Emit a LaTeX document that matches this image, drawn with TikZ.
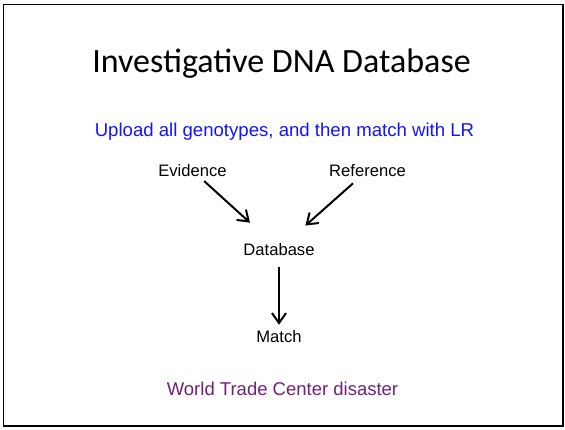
\documentclass[tikz,border=0pt]{standalone}
\usepackage{fontspec}
\setmainfont{Liberation Sans}
\newfontfamily\titlefont{Carlito}
\usetikzlibrary{arrows.meta}
\definecolor{subblue}{RGB}{20,20,250}
\definecolor{wtcpurple}{RGB}{112,32,120}
\tikzset{
  lbl/.style={font=\fontsize{16.6}{18}\selectfont, inner sep=0pt, text height=12pt, text depth=0pt, anchor=base},
  arr/.style={line width=2pt, -{Straight Barb[length=10pt,width=14pt,line width=2pt]}}
}
\begin{document}
\begin{tikzpicture}[x=1pt,y=-1pt]
\useasboundingbox (0,0) rectangle (565,429);
\draw[line width=1.5pt] (3.5,4.5) rectangle (563,426);
\node[anchor=base, inner sep=0pt, font=\titlefont\fontsize{34}{36}\selectfont] (title) at (281.5,72.3) {Investigative DNA Database};
\node[anchor=base, inner sep=0pt, text=subblue, font=\fontsize{18.6}{20}\selectfont] (sub) at (284.5,136.7) {Upload all genotypes, and then match with LR};
\node[lbl] (ev) at (192.5,176.5) {Evidence};
\node[lbl] (ref) at (367.5,176.5) {Reference};
\node[lbl] (db) at (279,255) {Database};
\node[lbl] (match) at (279,342) {Match};
\node[anchor=base, inner sep=0pt, text=wtcpurple, font=\fontsize{18.5}{20}\selectfont] (wtc) at (282.5,395) {World Trade Center disaster};
\draw[arr, shorten <=6.5pt, shorten >=30pt] (ev) -- (db);
\draw[arr, shorten <=10pt, shorten >=26pt] (ref) -- (db);
\draw[arr, shorten <=12pt, shorten >=5pt] (db.south) -- (match.north);
\end{tikzpicture}
\end{document}
